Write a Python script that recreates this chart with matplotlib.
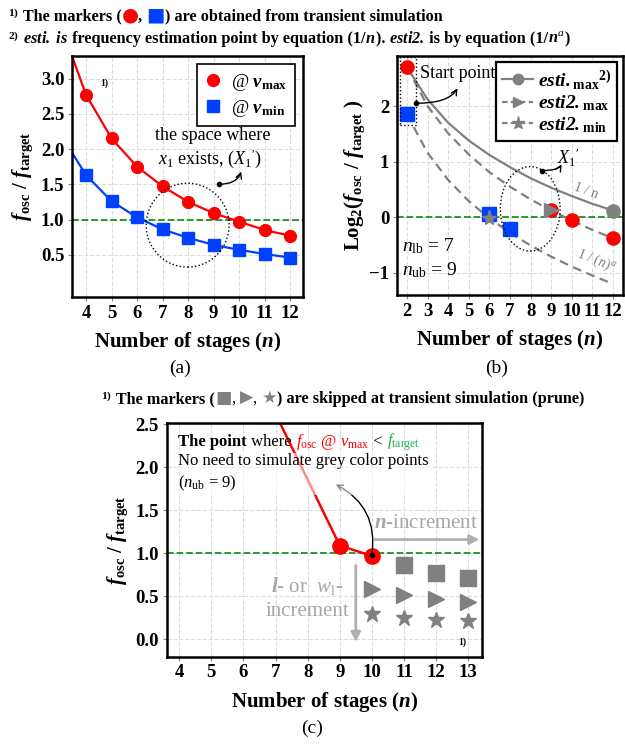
import numpy as np
import matplotlib
matplotlib.use('Agg')
import matplotlib.pyplot as plt
from matplotlib.patches import Ellipse, Rectangle
from matplotlib.lines import Line2D
from matplotlib.offsetbox import TextArea, HPacker, AnchoredOffsetbox

plt.rcParams['font.family'] = ['Liberation Serif', 'DejaVu Sans']
plt.rcParams['mathtext.fontset'] = 'custom'
plt.rcParams['mathtext.rm'] = 'Liberation Serif'
plt.rcParams['mathtext.it'] = 'Liberation Serif:italic'
plt.rcParams['mathtext.bf'] = 'Liberation Serif:bold'
plt.rcParams['mathtext.bfit'] = 'Liberation Serif:bold:italic'

# (a) transient simulation results
n_a = [4, 5, 6, 7, 8, 9, 10, 11, 12]
vmax_a = [2.77, 2.15, 1.75, 1.47, 1.25, 1.09, 0.97, 0.85, 0.77]
vmin_a = [1.63, 1.26, 1.03, 0.86, 0.74, 0.64, 0.57, 0.51, 0.46]
# line continues to the left edge of the panel
n_a_edge = 3.45
vmax_a_edge = 3.32
vmin_a_edge = 1.95

# (b) log2 ratio, estimation curves
n_b = [2, 3, 4, 5, 6, 7, 8, 9, 10, 11, 12]
esti_max = [2.70, 2.12, 1.70, 1.38, 1.12, 0.90, 0.70, 0.53, 0.38, 0.24, 0.12]
esti2_max = [2.70, 2.00, 1.51, 1.13, 0.81, 0.55, 0.32, 0.12, -0.06, -0.23, -0.38]
esti2_min = [1.85, 1.16, 0.67, 0.29, -0.02, -0.28, -0.51, -0.71, -0.89, -1.05, -1.20]
red_n_b = [2, 9, 10, 12]
red_b = [2.70, 0.13, -0.05, -0.38]
blue_n_b = [2, 6, 7]
blue_b = [1.85, 0.05, -0.22]
esti_max_pt = (12, 0.12)
esti2_max_pt = (9, 0.13)
esti2_min_pt = (6, -0.02)

# (c) pruning
red_line_n_c = [7, 9, 10]
red_line_c = [2.62, 1.09, 0.97]
red_n_c = [9, 10]
red_c = [1.09, 0.97]
sq_n_c = [11, 12, 13]
sq_c = [0.86, 0.77, 0.71]
tri_n_c = [10, 11, 12, 13]
tri_c = [0.58, 0.515, 0.47, 0.43]
star_n_c = [10, 11, 12, 13]
star_c = [0.29, 0.25, 0.23, 0.21]

RED = '#ff0000'
BLUE = '#0040ff'
GRAY = '#808080'
LGRAY = '#a6a6a6'
GREEN = '#1e8f1e'

fig = plt.figure(figsize=(6.25, 7.48), dpi=100)
ax_a = fig.add_axes([0.1152, 0.6029, 0.3696, 0.3222])
ax_b = fig.add_axes([0.6352, 0.6056, 0.3616, 0.3195])
ax_c = fig.add_axes([0.2667, 0.1221, 0.5040, 0.3120])

ylab = r'$\mathbfit{f}_{\mathbf{osc}}$ / $\mathbfit{f}_{\mathbf{target}}$'
xlab = r'Number of stages ($\mathbfit{n}$)'


def style(ax):
    ax.grid(True, color='#dcdcdc', ls='--', lw=0.8)
    ax.set_axisbelow(True)
    for s in ax.spines.values():
        s.set_linewidth(1.8)
    ax.tick_params(labelsize=13.5, width=0.8, length=3, color='#888888', pad=2.5)
    for t in ax.get_xticklabels() + ax.get_yticklabels():
        t.set_fontweight('bold')


# ---------------- (a)
ax = ax_a
ax.plot([n_a_edge] + n_a, [vmax_a_edge] + vmax_a, color=RED, lw=1.6, zorder=2)
ax.plot([n_a_edge] + n_a, [vmin_a_edge] + vmin_a, color=BLUE, lw=1.6, zorder=2)
ax.plot(n_a, vmax_a, 'o', color=RED, ms=8.5, zorder=3, label=r'@ $\mathbfit{v}_{\mathbf{max}}$')
ax.plot(n_a, vmin_a, 's', color=BLUE, ms=8.5, zorder=3, label=r'@ $\mathbfit{v}_{\mathbf{min}}$')
ax.axhline(1.0, color=GREEN, ls='--', lw=1.3, zorder=1)
ax.set_xlim(3.45, 12.5)
ax.set_ylim(-0.1, 3.32)
ax.set_xticks(range(4, 13))
ax.set_yticks([0.5, 1.0, 1.5, 2.0, 2.5, 3.0])
ax.set_yticklabels(['0.5', '1.0', '1.5', '2.0', '2.5', '3.0'])
style(ax)
ax.set_xlabel(xlab, fontsize=15, fontweight='bold', labelpad=6)
ax.set_ylabel(ylab, fontsize=15, fontweight='bold', labelpad=4)
ax.legend(loc='upper right', fontsize=13.5, handlelength=0.9, handletextpad=0.5,
          borderaxespad=0.45, labelspacing=0.25, fancybox=False, edgecolor='black',
          framealpha=1).get_frame().set_linewidth(1.2)
ax.text(4.55, 2.9, '1)', fontsize=7, fontweight='bold')
ax.add_patch(Ellipse((7.98, 0.92), 3.25, 1.19, fill=False, ls=':', lw=1.0, color='black', zorder=4))
ax.text(8.95, 2.19, 'the space where', fontsize=13, ha='center', va='center')
ax.text(8.85, 1.86, r"$x_1$ exists, ($X_1{'}$)", fontsize=13, ha='center', va='center')
ax.plot(9.21, 1.50, 'o', color='black', ms=3, zorder=5)
ax.annotate('', xy=(10.08, 1.68), xytext=(9.21, 1.50),
            arrowprops=dict(arrowstyle='->', lw=1.0, color='black',
                            connectionstyle='angle3,angleA=0,angleB=70', shrinkA=0, shrinkB=0))

# ---------------- (b)
ax = ax_b
ax.plot(n_b, esti_max, '-', color=GRAY, lw=1.6, zorder=2)
ax.plot(n_b, esti2_max, '--', color=GRAY, lw=1.6, dashes=(4, 2.5), zorder=2)
ax.plot(n_b, esti2_min, '--', color=GRAY, lw=1.6, dashes=(4, 2.5), zorder=2)
ax.axhline(0.0, color=GREEN, ls='--', lw=1.3, zorder=1)
ax.plot(red_n_b, red_b, 'o', color=RED, ms=9.5, ls='none', zorder=3)
ax.plot(blue_n_b, blue_b, 's', color=BLUE, ms=10, ls='none', zorder=3)
ax.plot(*esti_max_pt, 'o', color=GRAY, ms=9.5, zorder=4)
ax.plot(*esti2_max_pt, '>', color=GRAY, ms=9.5, zorder=4)
ax.plot(*esti2_min_pt, '*', color=GRAY, ms=11, zorder=4)
ax.set_xlim(1.52, 12.48)
ax.set_ylim(-1.4, 2.9)
ax.set_xticks(range(2, 13))
ax.set_yticks([-1, 0, 1, 2])
ax.set_yticklabels(['\u22121', '0', '1', '2'])
style(ax)
ax.set_xlabel(xlab, fontsize=15, fontweight='bold', labelpad=6)
ax.set_ylabel(r'$\mathbf{Log}_{\mathbf{2}}$($\mathbfit{f}_{\mathbf{osc}}$ / $\mathbfit{f}_{\mathbf{target}}$ )',
              fontsize=15, fontweight='bold', labelpad=2)
handles = [Line2D([], [], color=GRAY, lw=1.6, marker='o', ms=7.5),
           Line2D([], [], color=GRAY, lw=1.6, ls='--', dashes=(2.5, 1.5), marker='>', ms=7.5),
           Line2D([], [], color=GRAY, lw=1.6, ls='--', dashes=(2.5, 1.5), marker='*', ms=9.5)]
labels = [r'$\mathbfit{esti.}_{\mathbf{max}}{}^{\mathbf{2)}}$',
          r'$\mathbfit{esti2.}_{\mathbf{max}}$',
          r'$\mathbfit{esti2.}_{\mathbf{min}}$']
leg = ax.legend(handles, labels, loc='upper right', fontsize=14, handlelength=1.6,
                handletextpad=0.25, borderaxespad=0.3, borderpad=0.3, labelspacing=0.1,
                fancybox=False, edgecolor='black', framealpha=1)
leg.get_frame().set_linewidth(1.6)
ax.add_patch(Rectangle((1.66, 1.66), 0.80, 1.22, fill=False, ls=':', lw=1.0,
                       color='black', clip_on=False, zorder=5))
ax.text(2.62, 2.58, 'Start point', fontsize=13, va='center')
ax.plot(2.46, 2.05, 'o', color='black', ms=3, zorder=5)
ax.annotate('', xy=(4.45, 2.32), xytext=(2.46, 2.05),
            arrowprops=dict(arrowstyle='->', lw=1.0, color='black',
                            connectionstyle='angle3,angleA=0,angleB=60', shrinkA=0, shrinkB=0))
ax.add_patch(Ellipse((7.98, 0.15), 2.9, 1.52, fill=False, ls=':', lw=1.0, color='black', zorder=5))
ax.text(9.85, 1.06, r"$X_1{'}$", fontsize=13, ha='center', va='center')
ax.plot(8.56, 0.84, 'o', color='black', ms=3, zorder=5)
ax.annotate('', xy=(9.5, 0.95), xytext=(8.56, 0.84),
            arrowprops=dict(arrowstyle='->', lw=1.0, color='black',
                            connectionstyle='angle3,angleA=0,angleB=60', shrinkA=0, shrinkB=0))
ax.text(10.7, 0.47, '1 / n', fontsize=10, color=GRAY, ha='center', va='center', rotation=-20)
ax.text(11.15, -0.78, r'1 / $(n)^a$', fontsize=10, color=GRAY, ha='center', va='center', rotation=-22)
ax.text(1.75, -0.52, r'$n_{\mathrm{lb}}$ = 7', fontsize=14, va='center')
ax.text(1.75, -0.95, r'$n_{\mathrm{ub}}$ = 9', fontsize=14, va='center')

# ---------------- (c)
ax = ax_c
ax.plot(red_line_n_c, red_line_c, color=RED, lw=1.8, zorder=2)
ax.plot(red_n_c, red_c, 'o', color=RED, ms=11, zorder=3)
ax.plot(sq_n_c, sq_c, 's', color=GRAY, ms=11.5, ls='none', zorder=3)
ax.plot(tri_n_c, tri_c, '>', color=GRAY, ms=11, ls='none', zorder=3)
ax.plot(star_n_c, star_c, '*', color=GRAY, ms=12, ls='none', zorder=3)
ax.axhline(1.0, color=GREEN, ls='--', lw=1.3, zorder=1)
ax.set_xlim(3.61, 13.42)
ax.set_ylim(-0.2, 2.51)
ax.set_xticks(range(4, 14))
ax.set_yticks([0.0, 0.5, 1.0, 1.5, 2.0, 2.5])
ax.set_yticklabels(['0.0', '0.5', '1.0', '1.5', '2.0', '2.5'])
style(ax)
ax.set_xlabel(xlab, fontsize=15, fontweight='bold', labelpad=6)
ax.set_ylabel(ylab, fontsize=15, fontweight='bold', labelpad=4)

line1 = HPacker(children=[
    TextArea('The point', textprops=dict(fontsize=12, fontweight='bold')),
    TextArea(' where ', textprops=dict(fontsize=12)),
    TextArea(r'$f_{\mathrm{osc}}$ @ $v_{\mathrm{max}}$', textprops=dict(fontsize=12, color=RED)),
    TextArea(' < ', textprops=dict(fontsize=12)),
    TextArea(r'$f_{\mathrm{target}}$', textprops=dict(fontsize=12, color='#22b14c')),
], align='baseline', pad=0, sep=0)
ax.add_artist(AnchoredOffsetbox(loc='center left', child=line1, bbox_to_anchor=(3.97, 2.29),
                                bbox_transform=ax.transData, frameon=False, pad=0, borderpad=0))
ax.text(3.97, 1.93, 'No need to simulate grey color points\n($n_{\\mathrm{ub}}$ = 9)', fontsize=12,
        va='center', linespacing=1.35, zorder=4,
        bbox=dict(boxstyle='square,pad=0.1', fc='white', ec='none', alpha=0.55))
ax.plot(10, 0.98, 'o', color='black', ms=3, zorder=5)
ax.annotate('', xy=(8.88, 1.8), xytext=(10, 0.98),
            arrowprops=dict(arrowstyle='->', lw=1.0, color='black',
                            connectionstyle='arc3,rad=0.35', shrinkA=0, shrinkB=0))
ax.annotate('', xy=(13.35, 1.16), xytext=(10.1, 1.16),
            arrowprops=dict(arrowstyle='-|>', lw=2.0, color='#b0b0b0', mutation_scale=14,
                            shrinkA=0, shrinkB=0))
ax.text(11.7, 1.35, r'$\mathbfit{n}$-increment', fontsize=15, color=LGRAY, ha='center', va='center')
ax.annotate('', xy=(9.5, -0.03), xytext=(9.5, 0.86),
            arrowprops=dict(arrowstyle='-|>', lw=2.0, color='#b0b0b0', mutation_scale=14,
                            shrinkA=0, shrinkB=0))
ax.text(8.0, 0.62, r'$\mathbfit{l}$- or  $\mathit{w}_{\mathrm{l}}$-', fontsize=15, color=LGRAY,
        ha='center', va='center')
ax.text(8.0, 0.33, 'increment', fontsize=15, color=LGRAY, ha='center', va='center')
ax.text(12.7, -0.03, '1)', fontsize=7, fontweight='bold', va='center')

# ---------------- figure notes
def note(parts, x, y):
    box = HPacker(children=[TextArea(s, textprops=p) for s, p in parts],
                  align='baseline', pad=0, sep=0)
    fig.add_artist(AnchoredOffsetbox(loc='center left', child=box, bbox_to_anchor=(x, y),
                                     bbox_transform=fig.transFigure, frameon=False,
                                     pad=0, borderpad=0))

B = dict(fontsize=11.7, fontweight='bold')
sym = dict(fontsize=14, family='DejaVu Sans')
note([(r'$^{\mathbf{1)}}$', B), (' The markers (', B), ('\u25cf', dict(sym, color=RED)),
      (', ', B), ('\u25a0', dict(sym, color=BLUE)),
      (') are obtained from transient simulation', B)], 0.012, 1 - 15 / 748)
note([(r'$^{\mathbf{2)}}$', B), (r' $\mathbfit{esti.\ is}$', B),
      (' frequency estimation point by equation (1/', B), (r'$\mathbfit{n}$', B),
      ('). ', B), (r'$\mathbfit{esti2.}$', B), (' is by equation (1/', B),
      (r'$\mathbfit{n}^{\mathit{a}}$', B), (')', B)], 0.012, 1 - 39 / 748)
sym2 = dict(fontsize=12.5, family='DejaVu Sans', color=GRAY)
note([(r'$^{\mathbf{1)}}$', B), (' The markers (', B), ('\u25a0', sym2), (', ', dict(fontsize=11.7)),
      ('\u25b6', sym2), (', ', dict(fontsize=11.7)), ('\u2605', sym2),
      (') are skipped at transient simulation (prune)', B)], 0.162, 1 - 398 / 748)

fig.text(180 / 625, 1 - 368 / 748, '(a)', fontsize=14, ha='center', va='center')
fig.text(497 / 625, 1 - 368 / 748, '(b)', fontsize=14, ha='center', va='center')
fig.text(312 / 625, 1 - 728 / 748, '(c)', fontsize=14, ha='center', va='center')

fig.savefig('out.png', dpi=100)
